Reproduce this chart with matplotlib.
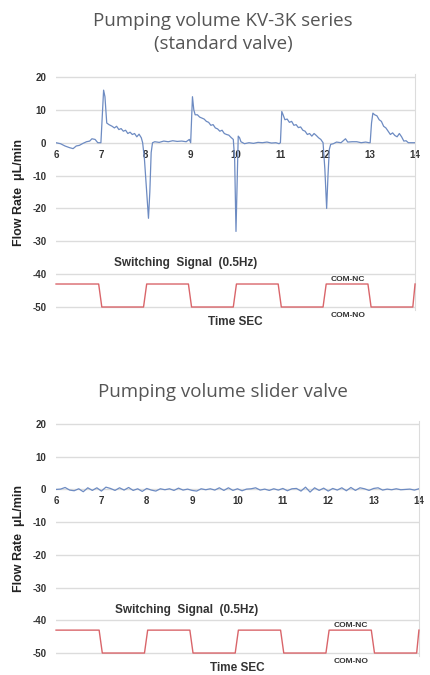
import matplotlib.pyplot as plt

# flow trace, standard valve (seconds, uL/min)
std_time = [6.00, 6.10, 6.20, 6.30, 6.38, 6.45, 6.52, 6.60, 6.68, 6.75, 6.80, 6.87, 6.93,
            7.00, 7.03, 7.06, 7.09, 7.13, 7.18, 7.25, 7.30, 7.35, 7.40, 7.45, 7.50, 7.55,
            7.60, 7.65, 7.70, 7.75, 7.80, 7.85, 7.90, 7.93, 7.97, 8.02, 8.06, 8.09, 8.12,
            8.15, 8.20, 8.30, 8.40, 8.50, 8.60, 8.70, 8.80, 8.90, 8.97,
            9.00, 9.02, 9.04, 9.07, 9.10, 9.15, 9.20, 9.30, 9.35, 9.40, 9.45, 9.50, 9.55,
            9.60, 9.65, 9.70, 9.75, 9.80, 9.85, 9.90, 9.95, 9.98, 10.01, 10.04, 10.06,
            10.09, 10.12, 10.20, 10.30, 10.40, 10.50, 10.60, 10.70, 10.80, 10.90, 10.97,
            11.00, 11.03, 11.06, 11.10, 11.15, 11.20, 11.25, 11.30, 11.35, 11.40, 11.45,
            11.50, 11.55, 11.60, 11.65, 11.70, 11.75, 11.80, 11.85, 11.90, 11.95, 11.99,
            12.03, 12.06, 12.09, 12.12, 12.18, 12.25, 12.35, 12.45, 12.50, 12.60, 12.70,
            12.80, 12.90, 12.97,
            13.00, 13.03, 13.06, 13.10, 13.15, 13.20, 13.25, 13.30, 13.35, 13.40, 13.45,
            13.50, 13.55, 13.60, 13.65, 13.70, 13.75, 13.80, 13.85, 13.90, 14.00]
std_flow = [0, -0.3, -1.0, -1.5, -1.8, -1.0, -0.8, -0.2, 0.3, 0.5, 1.2, 1.0, 0.0,
            0.0, 8, 16, 14, 6, 5.5, 5, 4.5, 5, 4, 4.3, 3.5, 3.8,
            2.8, 3.2, 2.5, 2.8, 1.8, 2.6, 1.5, 0, -5, -15, -23, -15, -3,
            0, 0.3, 0.1, 0.5, 0.3, 0.6, 0.4, 0.5, 0.3, 1,
            0, 7, 14, 10, 8.5, 8.5, 7.8, 7.2, 6.5, 6.2, 5.3, 5.5, 4.5,
            4.2, 3.5, 3.8, 2.8, 2.5, 2.3, 1.6, 1.0, -5, -27, -10, 2,
            1.5, 0.3, -0.3, 0, -0.2, 0.1, 0, 0.2, -0.1, 0, -0.3,
            0, 9.5, 8.5, 7.0, 7.2, 6.2, 6.5, 5.3, 5.5, 4.6, 4.8,
            3.8, 3.5, 2.5, 2.8, 2.0, 2.8, 2.2, 1.5, 1.0, 0, -8,
            -20, -10, -2, -0.5, -0.3, 0.2, 0.0, 1.2, 0.2, 0.3, 0.3,
            0, 0.2, 0,
            0, 6, 9, 8.5, 8.2, 7, 6.5, 5, 4.5, 3.5, 2.5,
            3, 2.2, 1.8, 2.8, 1.8, 0.5, 0.6, 0, 0, 0]

# flow trace, slider valve
sld_time = [6.0, 6.1, 6.2, 6.3, 6.4, 6.5, 6.6, 6.7, 6.8, 6.9, 7.0, 7.1, 7.2, 7.3, 7.4,
            7.5, 7.6, 7.7, 7.8, 7.9, 8.0, 8.1, 8.2, 8.3, 8.4, 8.5, 8.6, 8.7, 8.8, 8.9,
            9.0, 9.1, 9.2, 9.3, 9.4, 9.5, 9.6, 9.7, 9.8, 9.9, 10.0, 10.1, 10.2, 10.3,
            10.4, 10.5, 10.6, 10.7, 10.8, 10.9, 11.0, 11.1, 11.2, 11.3, 11.4, 11.5,
            11.6, 11.7, 11.8, 11.9, 12.0, 12.1, 12.2, 12.3, 12.4, 12.5, 12.6, 12.7,
            12.8, 12.9, 13.0, 13.1, 13.2, 13.3, 13.4, 13.5, 13.6, 13.7, 13.8, 13.9, 14.0]
sld_flow = [0, 0.1, 0.6, -0.2, -0.4, 0.2, -0.7, 0.5, -0.3, 0.5, -0.5, 0.7, 0.3,
            -0.3, 0.5, -0.2, 0.6, -0.3, 0.2, -0.6, 0.3, -0.2, -0.5, 0.2, -0.1,
            0.2, -0.3, 0.4, -0.2, 0.1, -0.3, -0.5, 0.2, -0.1, 0.2, -0.2, 0.5,
            -0.3, 0.5, -0.3, 0.2, -0.4, 0.1, 0.2, 0.5, -0.2, 0.1, -0.3, 0.2,
            -0.2, 0.3, -0.4, 0.2, 0.3, -0.5, 0.7, -0.8, 0.5, -0.3, 0.4, -0.5,
            0.3, -0.2, 0.5, -0.4, 0.6, -0.3, 0.5, 0.2, -0.3, 0.3, 0.5, -0.2,
            0.1, -0.1, 0.2, -0.1, 0.0, 0.1, -0.2, 0.2]

# switching signal (drawn on the same axis)
sig_time = [6.0, 6.95, 7.02, 7.95, 8.02, 8.95, 9.02, 9.95, 10.02, 10.95, 11.02,
            11.95, 12.02, 12.95, 13.02, 13.95, 14.0]
sig_level = [-43, -43, -50, -50, -43, -43, -50, -50, -43, -43, -50,
             -50, -43, -43, -50, -50, -43]

x_ticks = [6, 7, 8, 9, 10, 11, 12, 13, 14]
y_ticks = [20, 10, 0, -10, -20, -30, -40, -50]

blue = '#6d8bc2'
red = '#d9656a'
grid = '#dcdcdc'
dark = '#333333'


def draw_panel(ax, t, flow):
    ax.set_xlim(6, 14)
    ax.set_ylim(-51, 21)
    for v in y_ticks:
        ax.axhline(v, color=grid, lw=1, zorder=0)
    ax.plot(t, flow, color=blue, lw=0.9, zorder=3)
    ax.plot(sig_time, sig_level, color=red, lw=1.0, zorder=3, clip_on=False)

    for s in ['top', 'left']:
        ax.spines[s].set_visible(False)
    ax.spines['right'].set_color(grid)
    ax.spines['bottom'].set_position(('data', 0))
    ax.spines['bottom'].set_visible(False)

    ax.set_xticks(x_ticks)
    ax.set_xticklabels([str(v) for v in x_ticks])
    ax.set_yticks(y_ticks)
    ax.set_yticklabels([str(v) for v in y_ticks])
    ax.tick_params(length=0, labelsize=7, labelcolor=dark)
    ax.tick_params(axis='x', pad=5)
    ax.tick_params(axis='y', pad=7)
    for lab in ax.get_xticklabels() + ax.get_yticklabels():
        lab.set_fontweight('bold')
        lab.set_fontfamily('Liberation Sans')

    ax.set_ylabel('Flow Rate  \u03bcL/min', fontsize=9, fontweight='bold',
                  family='Liberation Sans', color='#222222', labelpad=5)
    ax.text(7.3, -36.7, 'Switching  Signal  (0.5Hz)', fontsize=8.5, fontweight='bold',
            family='Liberation Sans', color=dark, va='center')
    ax.text(12.5, -41.5, 'COM-NC', fontsize=6, fontweight='bold',
            family='Liberation Sans', color=dark, ha='center', va='center')
    ax.text(12.5, -52.6, 'COM-NO', fontsize=6, fontweight='bold',
            family='Liberation Sans', color=dark, ha='center', va='center', clip_on=False)
    ax.text(10.0, -54.6, 'Time SEC', fontsize=8.5, fontweight='bold',
            family='Liberation Sans', color=dark, ha='center', va='center', clip_on=False)


fig = plt.figure(figsize=(4.31, 6.75), dpi=100)

ax1 = fig.add_axes([0.130, 0.5403, 0.833, 0.3505])
draw_panel(ax1, std_time, std_flow)
fig.text(0.518, 1 - 32.5 / 675, 'Pumping volume KV-3K series\n(standard valve)',
         ha='center', va='center', fontsize=13.5, family='Open Sans', color='#555555',
         linespacing=1.3)

ax2 = fig.add_axes([0.130, 0.0277, 0.842, 0.349])
draw_panel(ax2, sld_time, sld_flow)
fig.text(0.518, 1 - 392 / 675, 'Pumping volume slider valve',
         ha='center', va='center', fontsize=13.5, family='Open Sans', color='#555555')

plt.savefig('out.png', dpi=100)
